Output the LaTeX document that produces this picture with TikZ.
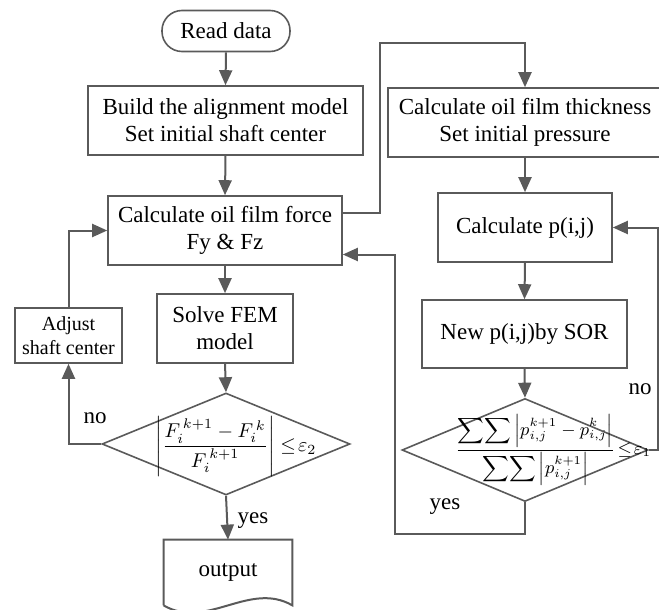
\documentclass[tikz,border=0pt]{standalone}
\usepackage{fontspec}
\setmainfont{Liberation Serif}
\usepackage{amsmath}
\usetikzlibrary{arrows.meta,shapes.geometric}
\definecolor{linegray}{RGB}{90,90,90}

\begin{document}
\begin{tikzpicture}[x=0.5pt,y=-0.5pt,
  every node/.style={font=\fontsize{11.5}{13.5}\selectfont},
  box/.style={draw=linegray,line width=0.8pt,rectangle,align=center,inner sep=0pt},
  terminal/.style={box,rounded corners=10pt},
  decision/.style={draw=linegray,line width=0.8pt,diamond,inner sep=0pt},
  arr/.style={draw=linegray,line width=1pt,-{Triangle[width=6.5pt,length=7.5pt]}},
  line/.style={draw=linegray,line width=1pt}]
  \useasboundingbox (0,0) rectangle (659,610);
  % left column
  \draw(226,31) node[terminal,minimum width=64pt,minimum height=20.5pt] (read) {Read data};
  \draw(225.5,120.5) node[box,minimum width=137.5pt,minimum height=34.5pt] (build) {Build the alignment model\\Set initial shaft center};
  \draw(225,230.5) node[box,minimum width=117pt,minimum height=34.5pt] (force) {Calculate oil film force\\Fy \& Fz};
  \draw(225,328.5) node[box,minimum width=68pt,minimum height=34.5pt] (fem) {Solve FEM\\model};
  \draw(68.5,335.5) node[box,minimum width=53.5pt,minimum height=27.5pt,font=\fontsize{10}{12}\selectfont] (adjust) {Adjust\\shaft center};
  \draw(226,444) node[decision,minimum width=124pt,minimum height=51pt] (dec1) {};
  \node[font=\fontsize{10}{12}\selectfont] at (236,446) {$\displaystyle\left|\frac{F_{i}^{\,k+1}-F_{i}^{\,k}}{F_{i}^{\,k+1}}\right|\le\!\varepsilon_{2}$};
  \draw(228,572.5) node[minimum width=64pt,minimum height=32.5pt] (out) {output};
  \draw[line] (out.south west) -- (out.north west) -- (out.north east) -- (out.south east)
    .. controls +(-43,-25) and +(43,25) .. (out.south west);
  % right column
  \draw(525,122.5) node[box,minimum width=137pt,minimum height=34.5pt] (thick) {Calculate oil film thickness\\Set initial pressure};
  \draw(525,227.5) node[box,minimum width=87pt,minimum height=34.5pt] (calcp) {Calculate p(i,j)};
  \draw(524.5,334) node[box,minimum width=102.5pt,minimum height=34pt] (sor) {New p(i,j)by SOR};
  \draw(525,450) node[decision,minimum width=123pt,minimum height=51.5pt] (dec2) {};
  \node[font=\fontsize{9}{11}\selectfont] at (553,450) {$\displaystyle\frac{\displaystyle\sum\!\sum\left|p_{i,j}^{k+1}-p_{i,j}^{k}\right|}{\displaystyle\sum\!\sum\left|p_{i,j}^{k+1}\right|}\!\le\!\varepsilon_{1}$};
  % connectors
  \draw[arr] (read.south) -- (build.north);
  \draw[arr] (build.south) -- (force.north);
  \draw[arr] (force.south) -- (fem.north);
  \draw[arr] (fem.south) -- (dec1.north);
  \draw[arr] (dec1.south) -- (out.north);
  \node at (253,521) {yes};
  \draw[arr] (dec1.west) -| (adjust.south);
  \node at (95,418) {no};
  \draw[arr] (adjust.north) |- (force.west);
  \draw[arr] ([yshift=9pt]force.east) -| (380,43) -| (thick.north);
  \draw[arr] (thick.south) -- (calcp.north);
  \draw[arr] (calcp.south) -- (sor.north);
  \draw[arr] (sor.south) -- (dec2.north);
  \draw[arr] (dec2.east) -- (658,450) |- (calcp.east);
  \node at (640,389) {no};
  \draw[arr] (dec2.south) |- (395,534) |- ([yshift=-12pt]force.east);
  \node at (445,507) {yes};
\end{tikzpicture}
\end{document}
